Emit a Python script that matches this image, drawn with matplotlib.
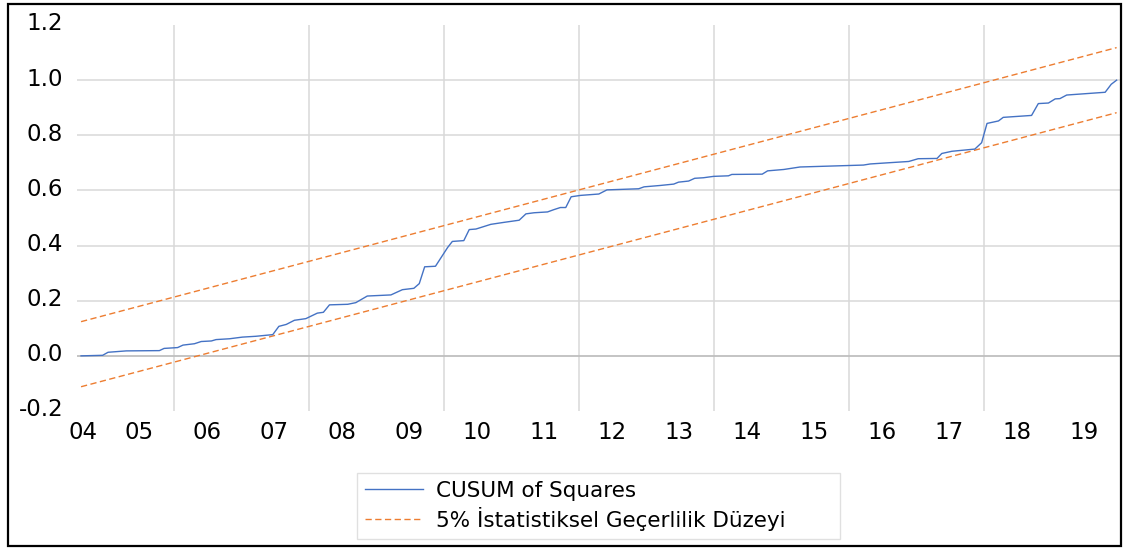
import matplotlib
matplotlib.use("Agg")
import matplotlib.pyplot as plt
import matplotlib.transforms as mtransforms
from matplotlib.patches import Rectangle

# ---- data ----
cusum_years = [2004.64, 2004.96, 2005.04, 2005.31, 2005.80, 2005.87, 2006.07, 2006.15,
               2006.32, 2006.42, 2006.57, 2006.64, 2006.84, 2007.03, 2007.23, 2007.48,
               2007.57, 2007.68, 2007.80, 2007.97, 2008.14, 2008.23, 2008.32, 2008.59,
               2008.71, 2008.88, 2009.23, 2009.40, 2009.57, 2009.65, 2009.73, 2009.89,
               2010.07, 2010.14, 2010.31, 2010.39, 2010.49, 2010.71, 2010.90, 2011.13,
               2011.23, 2011.35, 2011.55, 2011.64, 2011.74, 2011.82, 2011.90, 2012.04,
               2012.31, 2012.43, 2012.90, 2012.98, 2013.22, 2013.42, 2013.49, 2013.64,
               2013.73, 2013.86, 2014.01, 2014.23, 2014.28, 2014.73, 2014.81, 2015.05,
               2015.29, 2016.23, 2016.33, 2016.58, 2016.90, 2017.04, 2017.32, 2017.39,
               2017.54, 2017.88, 2017.98, 2018.06, 2018.23, 2018.30, 2018.72, 2018.82,
               2018.97, 2019.07, 2019.14, 2019.24, 2019.81, 2019.90, 2019.98]
cusum_values = [0.000, 0.002, 0.013, 0.018, 0.019, 0.027, 0.030, 0.039,
                0.044, 0.052, 0.054, 0.059, 0.062, 0.068, 0.071, 0.077,
                0.107, 0.114, 0.129, 0.135, 0.155, 0.158, 0.185, 0.187,
                0.193, 0.217, 0.221, 0.240, 0.245, 0.262, 0.323, 0.325,
                0.393, 0.415, 0.418, 0.458, 0.460, 0.477, 0.484, 0.492,
                0.515, 0.519, 0.522, 0.530, 0.538, 0.538, 0.577, 0.582,
                0.587, 0.602, 0.606, 0.613, 0.618, 0.623, 0.630, 0.634,
                0.644, 0.646, 0.651, 0.653, 0.658, 0.659, 0.671, 0.676,
                0.685, 0.692, 0.696, 0.700, 0.705, 0.715, 0.716, 0.734,
                0.742, 0.750, 0.773, 0.843, 0.852, 0.865, 0.872, 0.915,
                0.917, 0.932, 0.933, 0.946, 0.956, 0.985, 1.000]

bound_years = [2004.64, 2019.98]
upper_bound = [0.124, 1.118]
lower_bound = [-0.112, 0.882]

tick_years = [2004.67] + [y + 0.5 for y in range(2005, 2020)]
tick_labels = ["04", "05", "06", "07", "08", "09", "10", "11", "12", "13",
               "14", "15", "16", "17", "18", "19"]
y_ticks = [-0.2, 0.0, 0.2, 0.4, 0.6, 0.8, 1.0, 1.2]
y_grid = [0.2, 0.4, 0.6, 0.8, 1.0]
x_grid = [2006, 2008, 2010, 2012, 2014, 2016, 2018]

series_label = "CUSUM of Squares"
bound_label = "5% İstatistiksel Geçerlilik Düzeyi"

# ---- figure ----
W, H = 1123, 550
fig = plt.figure(figsize=(W / 100, H / 100), dpi=100)
plt.rcParams['font.family'] = ['DejaVu Sans']

ax = fig.add_axes([77 / W, 1 - 411 / H, (1120 - 77) / W, (411 - 25) / H])
ax.set_xlim(2004.58, 2020.03)
ax.set_ylim(-0.2, 1.2)

for g in y_grid:
    ax.axhline(g, color="#d9d9d9", lw=1.1, zorder=0)
for g in x_grid:
    ax.axvline(g + 0.02, color="#d9d9d9", lw=1.1, zorder=0)
ax.axhline(0.0, color="#bfbfbf", lw=1.3, zorder=1)

line_c, = ax.plot(cusum_years, cusum_values, color="#4472C4", lw=1.0,
                  label=series_label, zorder=3)
line_u, = ax.plot(bound_years, upper_bound, color="#ED7D31", lw=1.0,
                  linestyle=(0, (4.5, 2.5)), label=bound_label, zorder=2)
ax.plot(bound_years, lower_bound, color="#ED7D31", lw=1.0,
        linestyle=(0, (4.5, 2.5)), zorder=2)

for s in ax.spines.values():
    s.set_visible(False)

ax.set_xticks(tick_years)
ax.set_xticklabels(tick_labels)
ax.set_yticks(y_ticks)
ax.set_yticklabels([f"{v:.1f}" for v in y_ticks])
ax.tick_params(axis="both", length=0, labelsize=16.5, colors="black")
ax.tick_params(axis="x", pad=7)
ax.tick_params(axis="y", pad=10)

offset = mtransforms.ScaledTranslation(0, 3.5 / 100, fig.dpi_scale_trans)
for lab in ax.get_yticklabels():
    lab.set_transform(lab.get_transform() + offset)

leg = fig.legend([line_c, line_u], [series_label, bound_label],
                 loc="upper left",
                 bbox_to_anchor=(357 / W, 1 - 473 / H - 0.1, (840 - 357) / W, 0.1),
                 mode="expand",
                 fontsize=15.5, frameon=True, fancybox=False,
                 edgecolor="#d9d9d9", handlelength=2.7, handletextpad=0.6,
                 labelspacing=0.3, borderpad=0.35, borderaxespad=0)
leg.get_frame().set_linewidth(1.0)

# outer border
fig.patches.append(Rectangle((8 / W, 4 / H), (1121 - 8) / W, (546 - 4) / H,
                             transform=fig.transFigure, fill=False,
                             edgecolor="black", lw=1.6, zorder=10))

fig.savefig("out.png", dpi=100)
